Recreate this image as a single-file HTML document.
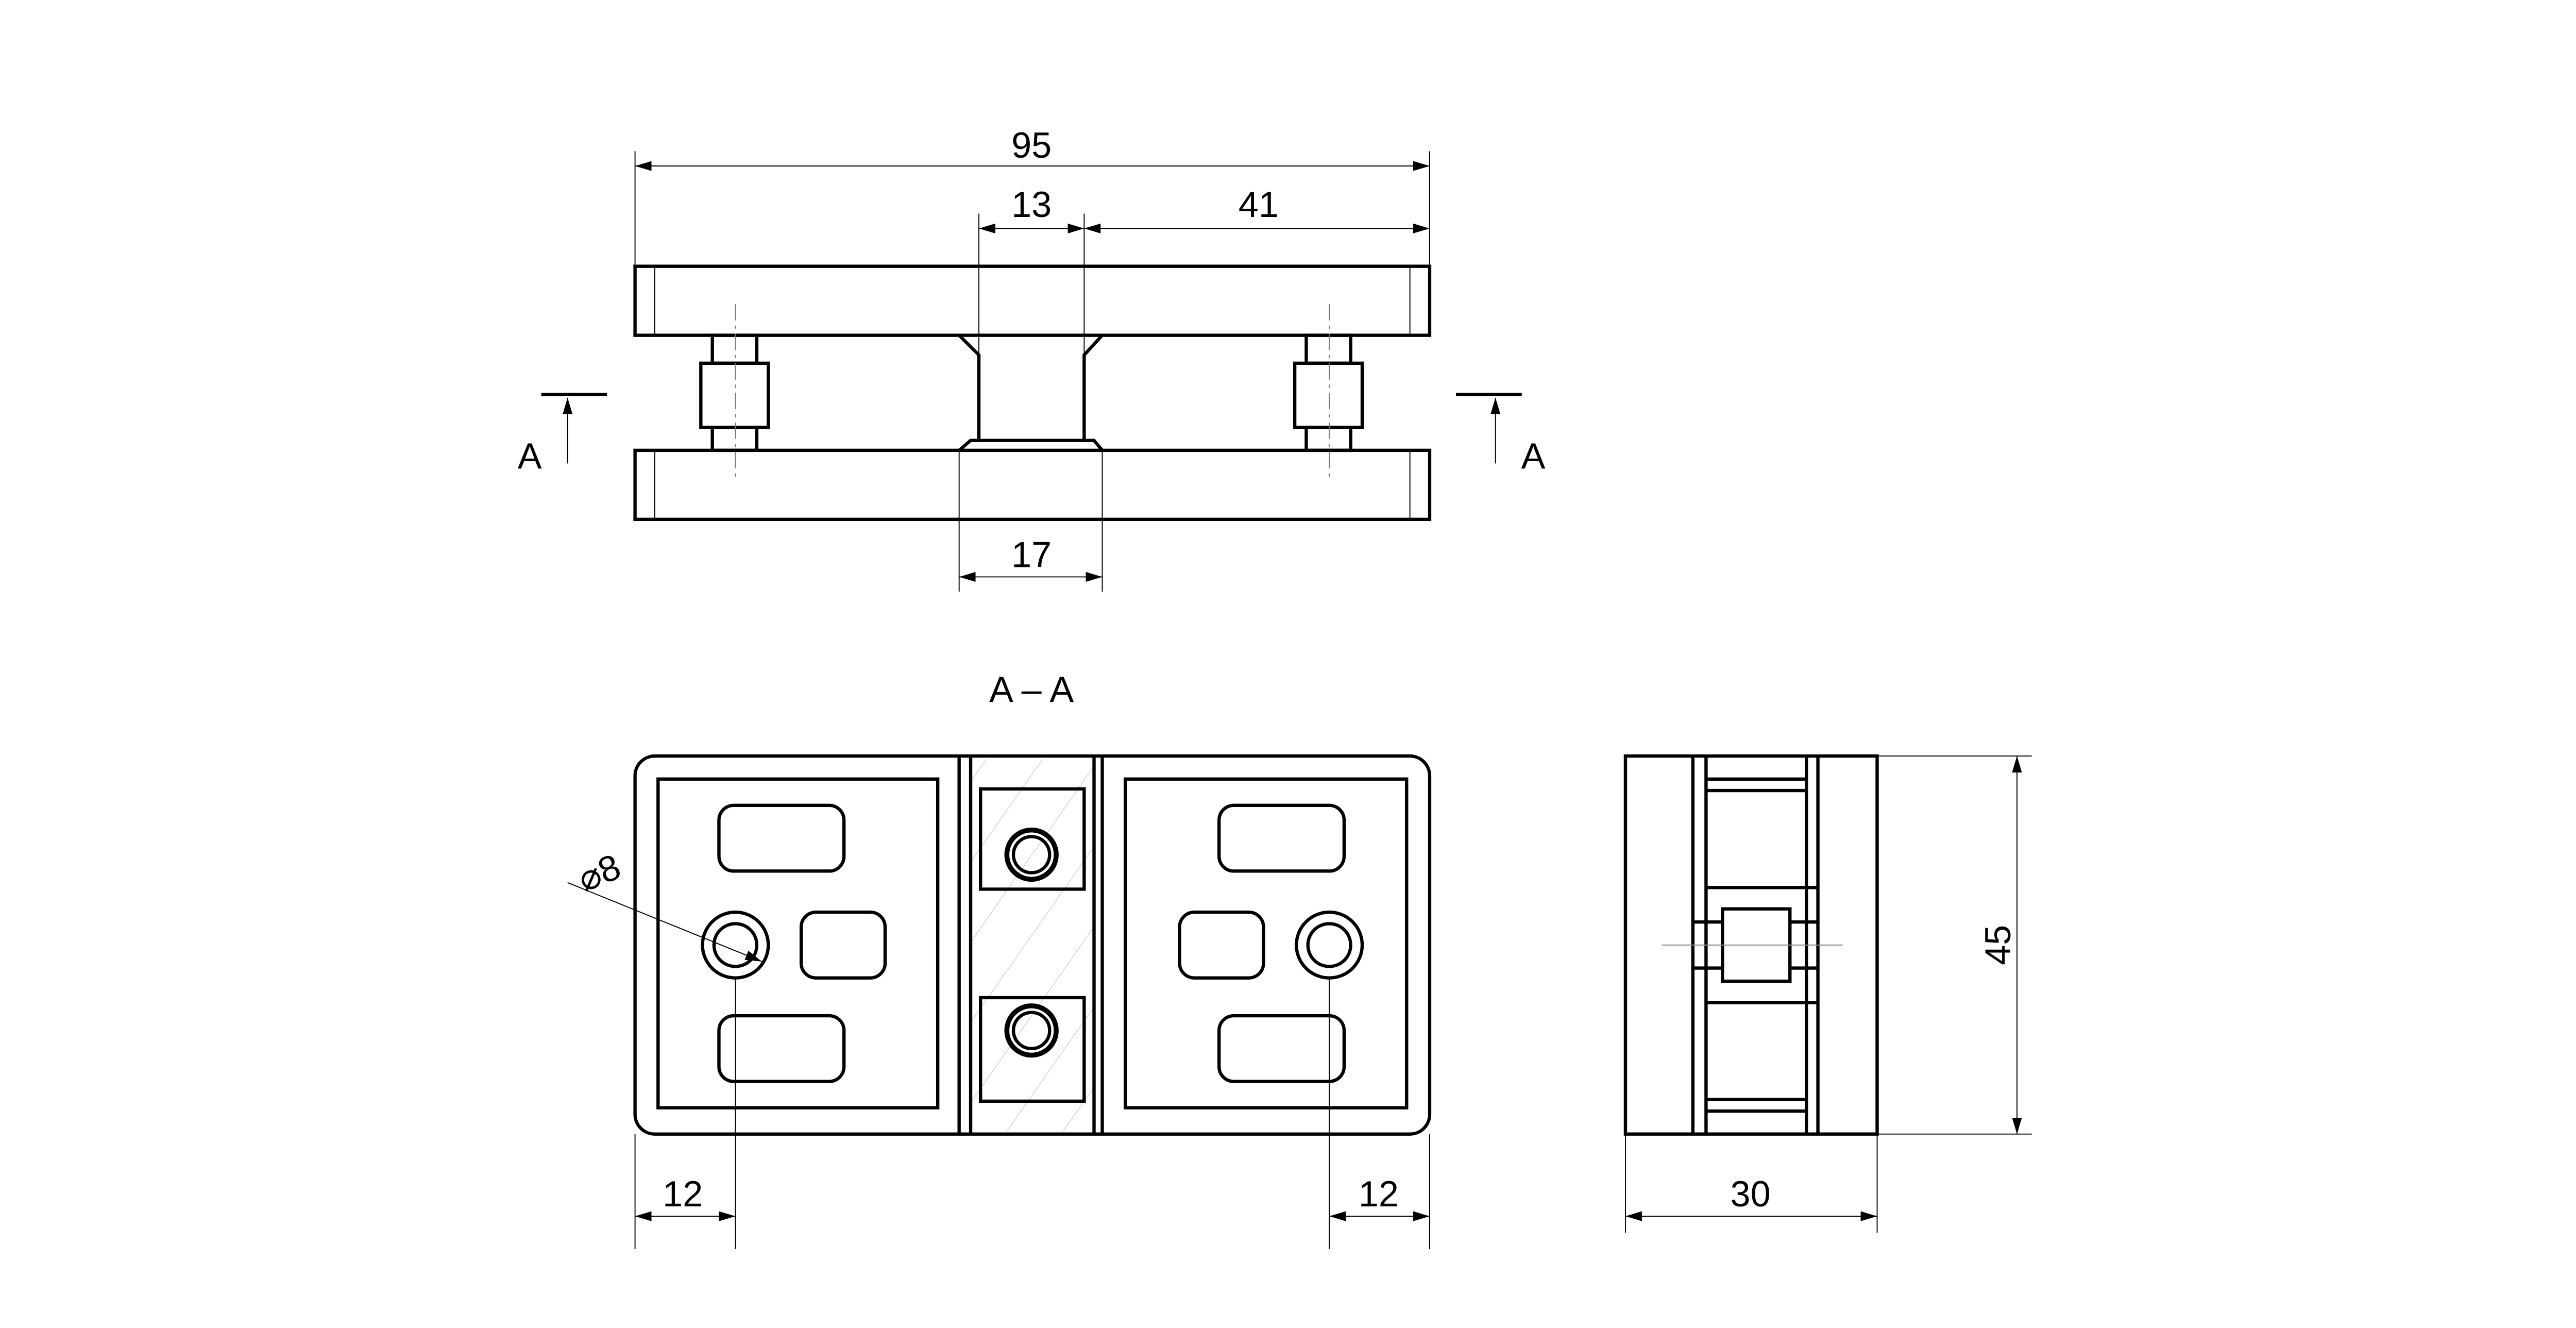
<!DOCTYPE html>
<html><head><meta charset="utf-8"><style>
html,body{margin:0;padding:0;background:#fff;}
svg{display:block;}
text{font-family:"Liberation Sans",sans-serif;font-size:22px;fill:#000;font-weight:300;}
</style></head><body>
<svg width="5023" height="2577" viewBox="0 0 1573 808" preserveAspectRatio="none" xmlns="http://www.w3.org/2000/svg">
<defs>
<marker id="a" viewBox="0 0 10 6" refX="10" refY="3" markerWidth="10" markerHeight="6" markerUnits="userSpaceOnUse" orient="auto-start-reverse"><path d="M0,0 L10,3 L0,6 z" fill="#000"/></marker>
<pattern id="h" width="28" height="28" patternUnits="userSpaceOnUse" patternTransform="rotate(35)"><line x1="0" y1="0" x2="0" y2="28" stroke="#999" stroke-width="0.4"/></pattern>
</defs>
<g fill="none" stroke="#000" stroke-width="2">
<rect x="386" y="162" width="483" height="42"/>
<rect x="386" y="274" width="483" height="42"/>
<path d="M583,204 L595,216 L595,268 L590,268 L583,274" fill="#fff"/>
<path d="M670,204 L659,216 L659,268 L665,268 L670,274" fill="#fff"/>
<line x1="590" y1="268" x2="665" y2="268"/>
<rect x="433" y="204" width="27" height="17"/><rect x="426" y="221" width="41" height="39"/><rect x="433" y="260" width="27" height="14"/>
<rect x="794" y="204" width="27" height="17"/><rect x="787" y="221" width="41" height="39"/><rect x="794" y="260" width="27" height="14"/>
</g>
<g stroke="#000" stroke-width="0.6" fill="none">
<line x1="398" y1="162" x2="398" y2="204"/><line x1="857" y1="162" x2="857" y2="204"/>
<line x1="398" y1="274" x2="398" y2="316"/><line x1="857" y1="274" x2="857" y2="316"/>
<line x1="447" y1="185" x2="447" y2="292" stroke-dasharray="10,3,2,3" stroke="#777"/>
<line x1="808" y1="185" x2="808" y2="292" stroke-dasharray="10,3,2,3" stroke="#777"/>
<line x1="386" y1="92" x2="386" y2="162"/><line x1="869" y1="92" x2="869" y2="162"/>
<line x1="595" y1="130" x2="595" y2="216"/><line x1="659" y1="130" x2="659" y2="216"/>
<line x1="583" y1="274" x2="583" y2="360"/><line x1="670" y1="274" x2="670" y2="360"/>
<line x1="386" y1="101" x2="869" y2="101" marker-start="url(#a)" marker-end="url(#a)"/>
<line x1="595" y1="139" x2="659" y2="139" marker-start="url(#a)" marker-end="url(#a)"/>
<line x1="659" y1="139" x2="869" y2="139" marker-start="url(#a)" marker-end="url(#a)"/>
<line x1="583" y1="351" x2="670" y2="351" marker-start="url(#a)" marker-end="url(#a)"/>
<line x1="345" y1="282" x2="345" y2="242" marker-end="url(#a)"/>
<line x1="909" y1="282" x2="909" y2="242" marker-end="url(#a)"/>
</g>
<g stroke="#000" stroke-width="2"><line x1="329" y1="240" x2="369" y2="240"/><line x1="885" y1="240" x2="925" y2="240"/></g>
<text x="627" y="96" text-anchor="middle">95</text>
<text x="627" y="132" text-anchor="middle">13</text>
<text x="765" y="132" text-anchor="middle">41</text>
<text x="627" y="345" text-anchor="middle">17</text>
<text x="322" y="285" text-anchor="middle">A</text>
<text x="932" y="285" text-anchor="middle">A</text>
<text x="627" y="427" text-anchor="middle">A – A</text>
<rect x="590" y="462" width="75" height="226" fill="url(#h)"/>
<g fill="none" stroke="#000" stroke-width="2">
<rect x="386" y="460" width="483" height="230" rx="12"/>
<line x1="583" y1="460" x2="583" y2="690"/><line x1="590" y1="460" x2="590" y2="690"/>
<line x1="665" y1="460" x2="665" y2="690"/><line x1="670" y1="460" x2="670" y2="690"/>
<rect x="400" y="474" width="170" height="200"/>
<rect x="684" y="474" width="171" height="200"/>
<rect x="437" y="490" width="76" height="40" rx="9"/><rect x="437" y="618" width="76" height="40" rx="9"/><rect x="487" y="555" width="51" height="40" rx="9"/>
<rect x="741" y="490" width="76" height="40" rx="9"/><rect x="741" y="618" width="76" height="40" rx="9"/><rect x="717" y="555" width="51" height="40" rx="9"/>
<circle cx="447" cy="575" r="20"/><circle cx="447" cy="575" r="13"/>
<circle cx="808" cy="575" r="20"/><circle cx="808" cy="575" r="13"/>
<rect x="596" y="480" width="63" height="61"/><rect x="596" y="607" width="63" height="63"/>
<circle cx="627" cy="520" r="15" stroke-width="3"/><circle cx="627" cy="520" r="11"/>
<circle cx="627" cy="627" r="15" stroke-width="3"/><circle cx="627" cy="627" r="11"/>
</g>
<g stroke="#000" stroke-width="0.6" fill="none">
<line x1="447" y1="595" x2="447" y2="760"/><line x1="808" y1="595" x2="808" y2="760"/>
<line x1="386" y1="690" x2="386" y2="760"/><line x1="869" y1="690" x2="869" y2="760"/>
<line x1="386" y1="740" x2="447" y2="740" marker-start="url(#a)" marker-end="url(#a)"/>
<line x1="808" y1="740" x2="869" y2="740" marker-start="url(#a)" marker-end="url(#a)"/>
<line x1="345" y1="537" x2="463" y2="585" marker-end="url(#a)"/>
</g>
<text x="0" y="0" transform="translate(367,538) rotate(-22)" text-anchor="middle">⌀8</text>
<text x="415" y="734" text-anchor="middle">12</text>
<text x="838" y="734" text-anchor="middle">12</text>
<g fill="none" stroke="#000" stroke-width="2">
<rect x="988" y="460" width="153" height="230"/>
<line x1="1029" y1="460" x2="1029" y2="690"/><line x1="1037" y1="460" x2="1037" y2="690"/>
<line x1="1098" y1="460" x2="1098" y2="690"/><line x1="1105" y1="460" x2="1105" y2="690"/>
<line x1="1037" y1="474" x2="1098" y2="474"/><line x1="1037" y1="481" x2="1098" y2="481"/>
<line x1="1037" y1="540" x2="1105" y2="540"/>
<line x1="1037" y1="610" x2="1105" y2="610"/>
<line x1="1037" y1="669" x2="1098" y2="669"/><line x1="1037" y1="676" x2="1098" y2="676"/>
<line x1="1029" y1="561" x2="1105" y2="561"/><line x1="1029" y1="589" x2="1105" y2="589"/>
<rect x="1047" y="553" width="41" height="44" fill="#fff"/>
</g>
<g stroke="#000" stroke-width="0.6" fill="none">
<line x1="1141" y1="460" x2="1235" y2="460"/><line x1="1141" y1="690" x2="1235" y2="690"/>
<line x1="1226" y1="460" x2="1226" y2="690" marker-start="url(#a)" marker-end="url(#a)"/>
<line x1="988" y1="690" x2="988" y2="750"/><line x1="1141" y1="690" x2="1141" y2="750"/>
<line x1="988" y1="740" x2="1141" y2="740" marker-start="url(#a)" marker-end="url(#a)"/>
<line x1="1010" y1="575" x2="1120" y2="575" stroke="#888"/>
</g>
<text x="0" y="0" transform="translate(1222,575) rotate(-90)" text-anchor="middle">45</text>
<text x="1064" y="734" text-anchor="middle">30</text>
</svg>
</body></html>
